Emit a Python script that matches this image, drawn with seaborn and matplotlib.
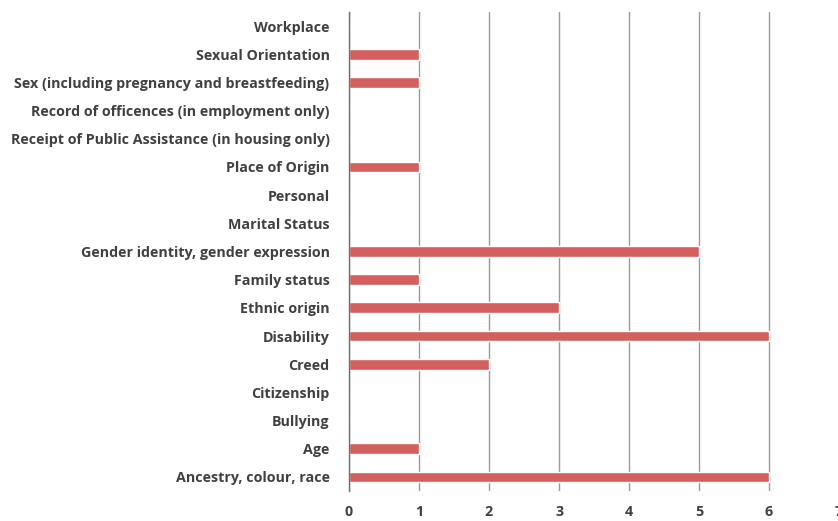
import pandas as pd
import matplotlib
matplotlib.use("Agg")
import matplotlib.pyplot as plt
import seaborn as sns

# grounds of complaint, top to bottom as shown
grounds = [
    "Workplace",
    "Sexual Orientation",
    "Sex (including pregnancy and breastfeeding)",
    "Record of officences (in employment only)",
    "Receipt of Public Assistance (in housing only)",
    "Place of Origin",
    "Personal",
    "Marital Status",
    "Gender identity, gender expression",
    "Family status",
    "Ethnic origin",
    "Disability",
    "Creed",
    "Citizenship",
    "Bullying",
    "Age",
    "Ancestry, colour, race",
]
counts = [0, 1, 1, 0, 0, 1, 0, 0, 5, 1, 3, 6, 2, 0, 0, 1, 6]
xticks = [0, 1, 2, 3, 4, 5, 6, 7]

df = pd.DataFrame({"ground": grounds, "count": counts})

sns.set_style("white")
plt.rcParams["font.family"] = ["Open Sans", "DejaVu Sans"]

fig = plt.figure(figsize=(8.38, 5.21), dpi=100)
ax = fig.add_axes([0.4165, 0.0576, 0.5847, 0.9194])

sns.barplot(data=df, x="count", y="ground", order=grounds, color="#D35F5F",
            saturation=1, width=0.38, ax=ax)

ax.set_xlim(0, 7)
ax.set_ylim(len(grounds) - 0.5, -0.5)
ax.set_xticks(xticks)
ax.xaxis.grid(True, color="#9a9a9a", linewidth=1)
ax.set_axisbelow(True)
for s in ["top", "right", "bottom"]:
    ax.spines[s].set_visible(False)
ax.spines["left"].set_color("#707070")
ax.spines["left"].set_linewidth(1)
ax.set_xlabel("")
ax.set_ylabel("")
ax.tick_params(axis="both", length=0, labelsize=10.3, labelcolor="#404040")
ax.tick_params(axis="x", pad=10)
ax.tick_params(axis="y", pad=14)
for lab in ax.get_xticklabels() + ax.get_yticklabels():
    lab.set_fontweight("bold")

fig.savefig("out.png", dpi=100)
